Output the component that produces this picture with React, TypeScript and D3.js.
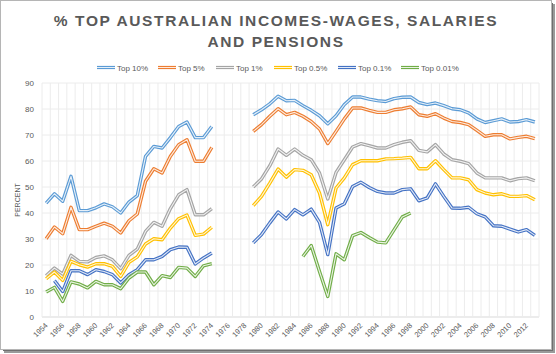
import React from "react";
import * as d3 from "d3";

const years = [
  1954, 1955, 1956, 1957, 1958, 1959, 1960, 1961, 1962, 1963, 1964, 1965,
  1966, 1967, 1968, 1969, 1970, 1971, 1972, 1973, 1974, 1975, 1976, 1977,
  1978, 1979, 1980, 1981, 1982, 1983, 1984, 1985, 1986, 1987, 1988, 1989,
  1990, 1991, 1992, 1993, 1994, 1995, 1996, 1997, 1998, 1999, 2000, 2001,
  2002, 2003, 2004, 2005, 2006, 2007, 2008, 2009, 2010, 2011, 2012, 2013,
];

const gap4 = [null, null, null, null];

const top10 = [
  43.8, 47.4, 44.5, 54.1, 40.9, 40.9, 42, 43.5, 42.4, 40, 44.2, 46.7, 61.8,
  65.6, 65, 69, 73.3, 75, 69, 69, 73.3, ...gap4,
  77.8, 79.7, 82, 84.9, 83.2, 83.3, 81.3, 79.5, 77.4, 74.3, 77.4, 81.7, 84.6,
  84.6, 83.8, 83.2, 82.9, 84, 84.5, 84.6, 82.5, 81.7, 82.3, 81.3, 80.1, 79.7,
  78.5, 76.2, 74.8, 75.5, 76.2, 75, 75.2, 75.9, 75,
];
const top5 = [
  30.1, 34.6, 32, 42.2, 33.6, 33.6, 34.9, 36.1, 34.9, 32.3, 37, 39.6, 52.2,
  57, 55.4, 61.8, 66.3, 68.2, 59.9, 59.9, 65.2, ...gap4,
  71.4, 74, 77.2, 80.1, 77.8, 78.7, 77.2, 75.2, 72.3, 66.7, 71.4, 76.2, 80.4,
  80.4, 79.5, 78.7, 78.7, 79.7, 80.1, 80.8, 77.8, 77.2, 78.2, 76.5, 75.2,
  74.8, 74, 71.8, 69.5, 70.1, 70.1, 68.5, 69.1, 69.5, 68.6,
];
const top1 = [
  15.9, 18.8, 16.5, 23.7, 21.4, 21.2, 22.9, 23.5, 22, 18.6, 23.7, 26.1, 32.9,
  36.4, 34.9, 41.7, 47, 49, 39.3, 39.3, 41.7, ...gap4,
  50, 53.1, 58.2, 64.6, 62.2, 64.6, 62.2, 60.5, 55.4, 45.4, 55.6, 60.5, 65.4,
  66.7, 65.9, 65, 65, 66.3, 67.2, 67.8, 64.1, 63.5, 66.3, 62.7, 60.5, 59.9,
  59, 55.4, 53.5, 53.5, 53.5, 52.4, 53.2, 53.5, 52.4,
];
const top05 = [
  14.7, 17.3, 14.1, 21.4, 20.1, 19.2, 20.5, 20.5, 19.5, 15.6, 21, 23.1, 28.1,
  30.1, 29.7, 34.2, 37.8, 39.2, 31.4, 31.9, 34.5, ...gap4,
  42.8, 46.4, 51.5, 56.9, 53.8, 56.7, 56.4, 54.7, 47.7, 35.5, 49.6, 53.5,
  58.6, 60.1, 60.1, 60.1, 60.8, 60.9, 61.1, 61.4, 57, 57, 60.1, 56.7, 53.5,
  53.5, 52.8, 49, 47.7, 47, 47.4, 46.4, 46.4, 46.7, 45.1,
];
const top01 = [
  null, 14, 9.8, 17.8, 17.8, 16.3, 18.2, 17.5, 16.3, 13.1, 16.3, 18.2, 22,
  22, 23.3, 25.9, 26.9, 26.8, 20.4, 22.7, 24.6, ...gap4,
  28.5, 31.7, 36.2, 40.4, 37.7, 41.3, 39.3, 41.5, 36.4, 24, 41.9, 43.6, 50.2,
  51.8, 49.8, 48.3, 47.7, 47.7, 49, 49.3, 44.7, 45.8, 51.2, 46.4, 41.9, 41.8,
  42.2, 39.7, 38.5, 35.1, 34.9, 33.8, 32.7, 33.6, 31.4,
];
const top001 = [
  9.6, 11.4, 6, 13.5, 12.7, 11.2, 13.7, 12.4, 12.4, 10.9, 15, 17.3, 17.3,
  12.4, 15.9, 15.2, 19.1, 18.8, 15.6, 19.7, 20.5,
  null, null, null, null, null, null, null, null, null, null,
  23.3, 27.5, 17.5, 7.9, 24.3, 22, 31.3, 32.5, 30.6, 28.8, 28.5, 33.5, 38.5,
  40,
  null, null, null, null, null, null, null, null, null, null, null, null,
  null, null, null,
];

const seriesNames = ["Top 10%", "Top 5%", "Top 1%", "Top 0.5%", "Top 0.1%", "Top 0.01%"];
const seriesValues = [top10, top5, top1, top05, top01, top001];
const seriesColors = ["#5B9BD5", "#ED7D31", "#A5A5A5", "#FFC000", "#4472C4", "#70AD47"];

const yTicks = [0, 10, 20, 30, 40, 50, 60, 70, 80, 90];
const xLabels = years.filter((y) => (y - 1954) % 2 === 0);

const font = "'Liberation Sans', Arial, sans-serif";
const textColor = "#595959";

export default function App() {
  const width = 556;
  const height = 354;
  const plot = { left: 42, right: 539, top: 83, bottom: 317 };

  const x = d3
    .scaleBand<number>()
    .domain(years)
    .range([plot.left, plot.right]);
  const cx = (yr: number) => (x(yr) as number) + x.bandwidth() / 2;
  const y = d3.scaleLinear().domain([0, 90]).range([plot.bottom, plot.top]);

  const line = d3
    .line<number | null>()
    .defined((d) => d != null)
    .x((_, i) => cx(years[i]))
    .y((d) => y(d as number));

  // legend layout (symbol start x)
  const legendX = [97, 158, 216, 274, 338, 401];

  return (
    <>
      <style>{`body{margin:0}`}</style>
      <svg width={width} height={height} style={{ display: "block" }}>
        <rect x={0} y={0} width={width} height={height} fill="#fff" />
        {/* drop shadow + frame */}
        <rect x={4} y={4} width={551} height={349} fill="#9a9a9a" />
        <rect x={3} y={3} width={550} height={348} fill="#6f6f6f" />
        <rect x={0.5} y={0.5} width={551} height={349} fill="#fff" stroke="#b5b5b5" />

        {/* title */}
        <text
          x={276}
          y={25.5}
          textAnchor="middle"
          fontFamily={font}
          fontWeight="bold"
          fontSize={15.5}
          letterSpacing={1.6}
          fill={textColor}
        >
          % TOP AUSTRALIAN INCOMES-WAGES, SALARIES
        </text>
        <text
          x={276}
          y={46.5}
          textAnchor="middle"
          fontFamily={font}
          fontWeight="bold"
          fontSize={15.5}
          letterSpacing={1.6}
          fill={textColor}
        >
          AND PENSIONS
        </text>

        {/* legend */}
        {seriesNames.map((name, i) => (
          <g key={name} transform={`translate(${legendX[i]},67.5)`}>
            <line x1={0} x2={18} y1={0} y2={0} stroke={seriesColors[i]} strokeWidth={3.2} />
            <line x1={0} x2={18} y1={0} y2={0} stroke="#fff" strokeWidth={1} opacity={0.85} />
            <text x={20} y={3} fontFamily={font} fontSize={8} fill={textColor}>
              {name}
            </text>
          </g>
        ))}

        {/* horizontal gridlines */}
        {yTicks.map((t) => (
          <line
            key={`h${t}`}
            x1={plot.left}
            x2={plot.right}
            y1={y(t)}
            y2={y(t)}
            stroke={t === 0 ? "#d9d9d9" : "#ececec"}
            strokeWidth={1}
          />
        ))}
        {/* vertical gridlines */}
        {[...years.map((yr) => x(yr) as number), plot.right].map((gx, i) => (
          <line
            key={`v${i}`}
            x1={gx}
            x2={gx}
            y1={plot.top}
            y2={plot.bottom}
            stroke="#ececec"
            strokeWidth={1}
          />
        ))}

        {/* y axis labels */}
        {yTicks.map((t) => (
          <text
            key={`yl${t}`}
            x={34}
            y={y(t)}
            dy="0.33em"
            textAnchor="end"
            fontFamily={font}
            fontSize={8}
            fill={textColor}
          >
            {t}
          </text>
        ))}
        <text
          transform={`translate(19.5,${(plot.top + plot.bottom) / 2}) rotate(-90)`}
          textAnchor="middle"
          fontFamily={font}
          fontSize={7}
          fill={textColor}
        >
          PERCENT
        </text>

        {/* x axis labels */}
        {xLabels.map((yr) => (
          <text
            key={`xl${yr}`}
            transform={`translate(${cx(yr) + 2},${plot.bottom + 9}) rotate(-45)`}
            textAnchor="end"
            fontFamily={font}
            fontSize={7.5}
            fill={textColor}
          >
            {yr}
          </text>
        ))}

        {/* series: double (compound) lines */}
        {seriesValues.map((vals, i) => (
          <g key={seriesNames[i]}>
            <path
              d={line(vals) || ""}
              fill="none"
              stroke={seriesColors[i]}
              strokeWidth={3.4}
              strokeLinejoin="round"
            />
            <path
              d={line(vals) || ""}
              fill="none"
              stroke="#fff"
              strokeWidth={1.1}
              strokeLinejoin="round"
              opacity={0.85}
            />
          </g>
        ))}
      </svg>
    </>
  );
}
